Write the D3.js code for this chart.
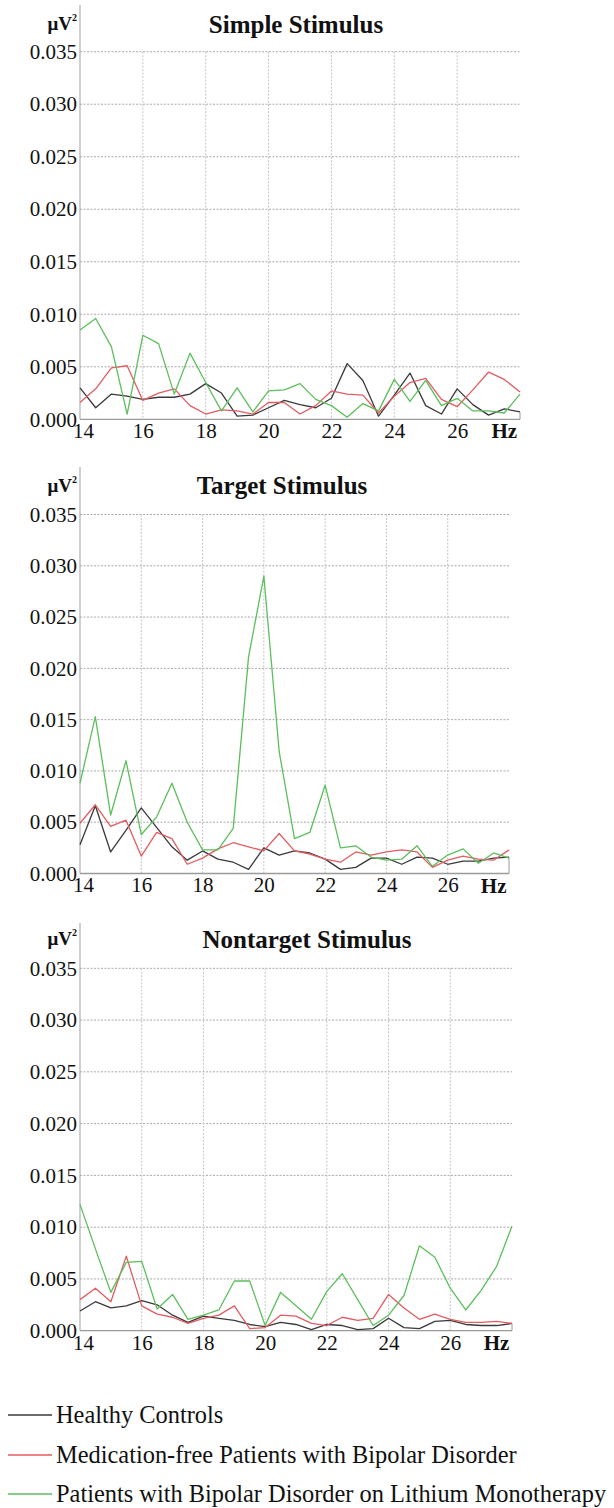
<!DOCTYPE html>
<html><head><meta charset="utf-8">
<script src="https://cdn.jsdelivr.net/npm/d3@7"></script>
<style>
html,body{margin:0;padding:0;background:#fff;}
svg{display:block;font-family:"Liberation Serif","Times New Roman",Times,serif;}
</style></head>
<body>
<svg id="chart" width="614" height="1508"></svg>
<script>
const freqs = [14,14.5,15,15.5,16,16.5,17,17.5,18,18.5,19,19.5,20,20.5,21,21.5,22,22.5,23,23.5,24,24.5,25,25.5,26,26.5,27,27.5,28];
const xTicks = [14,16,18,20,22,24,26];
const yTicks = [0,0.005,0.010,0.015,0.020,0.025,0.030,0.035];
const seriesNames = ["Healthy Controls","Medication-free Patients with Bipolar Disorder","Patients with Bipolar Disorder on Lithium Monotherapy"];
const seriesColors = ["#3a3a3a","#e25c62","#5cbf5c"];
const panelTitles = ["Simple Stimulus","Target Stimulus","Nontarget Stimulus"];

// Simple stimulus
const simpleHealthy = [0.0030,0.0011,0.0024,0.0022,0.0019,0.0021,0.0021,0.0024,0.0034,0.0025,0.0003,0.0004,0.0011,0.0018,0.0014,0.0011,0.0020,0.0053,0.0037,0.0003,0.0023,0.0044,0.0013,0.0005,0.0029,0.0014,0.0004,0.0010,0.0007];
const simpleMedFree = [0.0016,0.0029,0.0049,0.0051,0.0018,0.0025,0.0029,0.0013,0.0005,0.0009,0.0008,0.0005,0.0016,0.0016,0.0005,0.0013,0.0027,0.0024,0.0023,0.0006,0.0022,0.0035,0.0039,0.0019,0.0012,0.0028,0.0045,0.0038,0.0026];
const simpleLithium = [0.0085,0.0096,0.0069,0.0005,0.0080,0.0072,0.0024,0.0063,0.0035,0.0008,0.0030,0.0007,0.0027,0.0028,0.0034,0.0019,0.0013,0.0002,0.0015,0.0008,0.0038,0.0017,0.0037,0.0013,0.0020,0.0008,0.0008,0.0006,0.0024];

// Target stimulus
const targetHealthy = [0.0028,0.0066,0.0021,0.0042,0.0064,0.0045,0.0026,0.0013,0.0022,0.0014,0.0011,0.0004,0.0025,0.0018,0.0022,0.0020,0.0014,0.0004,0.0006,0.0015,0.0015,0.0009,0.0016,0.0015,0.0009,0.0012,0.0012,0.0015,0.0016];
const targetMedFree = [0.0049,0.0067,0.0046,0.0052,0.0017,0.0040,0.0034,0.0009,0.0015,0.0024,0.0030,0.0026,0.0022,0.0039,0.0022,0.0019,0.0014,0.0011,0.0021,0.0018,0.0021,0.0023,0.0021,0.0006,0.0013,0.0017,0.0014,0.0013,0.0023];
const targetLithium = [0.0088,0.0153,0.0057,0.0110,0.0038,0.0055,0.0088,0.0050,0.0023,0.0023,0.0044,0.0211,0.0290,0.0119,0.0034,0.0040,0.0086,0.0025,0.0027,0.0016,0.0013,0.0014,0.0027,0.0007,0.0018,0.0024,0.0010,0.0020,0.0015];

// Nontarget stimulus
const nontargetHealthy = [0.0019,0.0028,0.0022,0.0024,0.0029,0.0025,0.0015,0.0008,0.0014,0.0012,0.0010,0.0006,0.0004,0.0008,0.0006,0.0001,0.0006,0.0005,0.0001,0.0002,0.0012,0.0003,0.0002,0.0009,0.0010,0.0006,0.0005,0.0005,0.0007];
const nontargetMedFree = [0.0030,0.0041,0.0028,0.0072,0.0024,0.0016,0.0013,0.0007,0.0012,0.0015,0.0024,0.0002,0.0003,0.0015,0.0014,0.0007,0.0005,0.0013,0.0010,0.0012,0.0035,0.0022,0.0011,0.0016,0.0011,0.0008,0.0008,0.0009,0.0007];
const nontargetLithium = [0.0122,0.0079,0.0037,0.0066,0.0067,0.0021,0.0035,0.0011,0.0015,0.0020,0.0048,0.0048,0.0005,0.0037,0.0024,0.0011,0.0038,0.0055,0.0030,0.0005,0.0015,0.0034,0.0082,0.0071,0.0041,0.0020,0.0039,0.0062,0.0101];

const panels = [
  {title: panelTitles[0], series:[simpleHealthy, simpleMedFree, simpleLithium]},
  {title: panelTitles[1], series:[targetHealthy, targetMedFree, targetLithium]},
  {title: panelTitles[2], series:[nontargetHealthy, nontargetMedFree, nontargetLithium]}
];

// layout (positions only)
const layout = [
  {x0:80, x1:520, yTop:51.7, yBase:419.3, axisTop:5,   titleX:296, titleY:33,  unitY:30},
  {x0:80, x1:509, yTop:514.5, yBase:873.5, axisTop:467, titleX:282, titleY:494, unitY:492},
  {x0:80, x1:512, yTop:968.3, yBase:1330.7, axisTop:923, titleX:307, titleY:948, unitY:945}
];

const FONT = '"Liberation Serif","Times New Roman",Times,serif';
const svg = d3.select("#chart");

panels.forEach((p, i) => {
  const L = layout[i];
  const x = d3.scaleLinear().domain([14,28]).range([L.x0, L.x1]);
  const y = d3.scaleLinear().domain([0,0.035]).range([L.yBase, L.yTop]);
  const g = svg.append("g");

  // horizontal gridlines
  g.selectAll("line.hg").data(yTicks.filter(d => d > 0)).join("line")
    .attr("x1", L.x0).attr("x2", L.x1)
    .attr("y1", d => y(d)).attr("y2", d => y(d))
    .attr("stroke", "#a9a9a9").attr("stroke-width", 1).attr("stroke-dasharray", "2,1.5");
  // vertical gridlines
  g.selectAll("line.vg").data(xTicks.filter(d => d > 14)).join("line")
    .attr("x1", d => x(d)).attr("x2", d => x(d))
    .attr("y1", L.yTop).attr("y2", L.yBase)
    .attr("stroke", "#c4c4c4").attr("stroke-width", 1).attr("stroke-dasharray", "2,1.5");

  // y axis labels
  const yAxis = d3.axisLeft(y).tickValues(yTicks).tickSize(0).tickPadding(3)
    .tickFormat(d3.format(".3f"));
  const ya = g.append("g").attr("transform", `translate(${L.x0},0)`).call(yAxis);
  ya.attr("font-family", FONT);
  ya.select(".domain").remove();
  ya.selectAll("text").attr("font-size", 21).attr("fill", "#111");

  // x axis labels
  const xAxis = d3.axisBottom(x).tickValues(xTicks).tickSize(0).tickPadding(4).tickFormat(d3.format("d"));
  const xa = g.append("g").attr("transform", `translate(0,${L.yBase})`).call(xAxis);
  xa.attr("font-family", FONT);
  xa.select(".domain").remove();
  xa.selectAll("text").attr("font-size", 21).attr("fill", "#111")
    .attr("dx", d => d === 14 ? 3 : 0);
  g.append("text").attr("x", x(27.5)).attr("y", L.yBase + 19)
    .attr("text-anchor", "middle").attr("font-size", 21).attr("font-weight", "bold")
    .attr("fill", "#111").text("Hz");

  // axis lines
  g.append("line").attr("x1", L.x0).attr("x2", L.x0).attr("y1", L.axisTop).attr("y2", L.yBase)
    .attr("stroke", "#b0b0b0").attr("stroke-width", 1.2);
  g.append("line").attr("x1", L.x0).attr("x2", L.x1).attr("y1", L.yBase).attr("y2", L.yBase)
    .attr("stroke", "#9a9a9a").attr("stroke-width", 1.3);

  // unit label
  const u = g.append("text").attr("x", L.x0 - 3).attr("y", L.unitY).attr("text-anchor", "end")
    .attr("font-size", 19).attr("font-weight", "bold").attr("fill", "#111");
  u.append("tspan").text("μV");
  u.append("tspan").attr("font-size", 10).attr("dy", -9).text("2");

  // title
  g.append("text").attr("x", L.titleX).attr("y", L.titleY).attr("text-anchor", "middle")
    .attr("font-size", 25).attr("font-weight", "bold").attr("fill", "#111").text(p.title);

  // right-end drop of healthy series
  const lastH = p.series[0][p.series[0].length - 1];
  g.append("line").attr("x1", x(28)).attr("x2", x(28)).attr("y1", y(lastH)).attr("y2", L.yBase)
    .attr("stroke", "#9a9a9a").attr("stroke-width", 1);

  const line = d3.line().x((d, k) => x(freqs[k])).y(d => y(d));
  p.series.forEach((s, k) => {
    g.append("path").datum(s).attr("d", line).attr("fill", "none")
      .attr("stroke", seriesColors[k]).attr("stroke-width", 1.3).attr("stroke-linejoin", "round");
  });
});

// legend
const legendY = [1415, 1455, 1494];
const lg = svg.append("g");
seriesNames.forEach((n, k) => {
  lg.append("line").attr("x1", 8).attr("x2", 52).attr("y1", legendY[k]).attr("y2", legendY[k])
    .attr("stroke", seriesColors[k]).attr("stroke-width", 1.3);
  lg.append("text").attr("x", 56).attr("y", legendY[k] + 8).attr("font-size", 24.4)
    .attr("fill", "#111").text(n);
});
</script>
</body></html>
